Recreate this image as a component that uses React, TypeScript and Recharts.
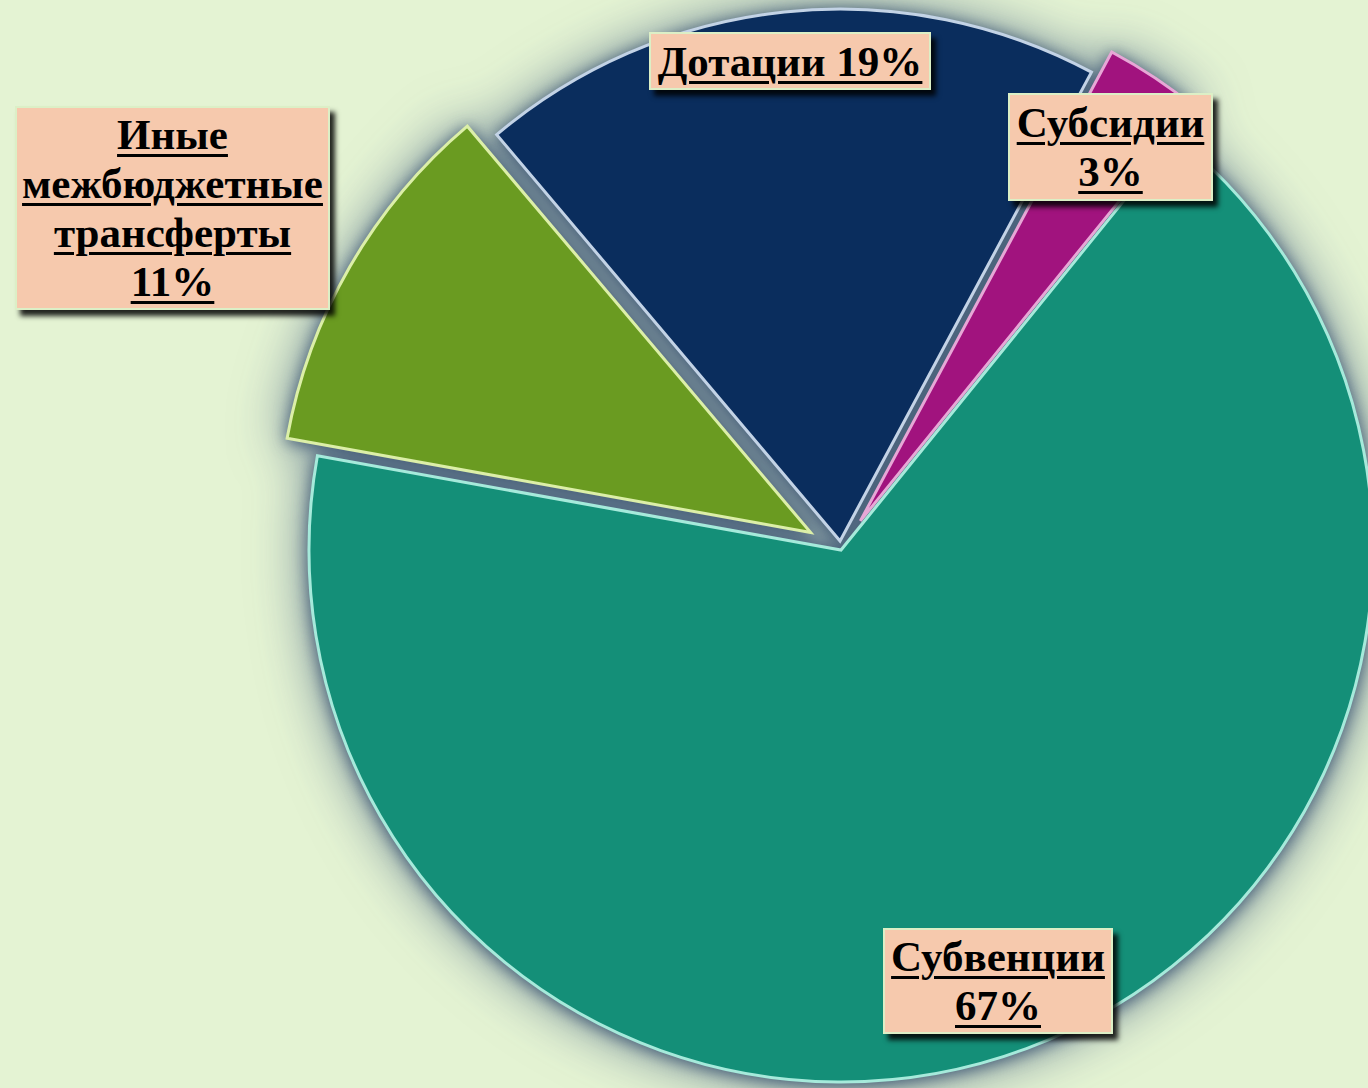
import React from "react";
import { Cell, Pie, PieChart } from "recharts";

const categories = ["Субсидии", "Дотации", "Иные межбюджетные трансферты", "Субвенции"];
const shares = [3, 19, 11, 67];
const labelLines = [["Субсидии", "3%"], ["Дотации 19%"], ["Иные", "межбюджетные", "трансферты", "11%"], ["Субвенции", "67%"]];

const fills = ["#A1137E", "#0A2D5D", "#6A9B21", "#148F78"];
const strokes = ["#e7a7d6", "#c3d3e6", "#dcefa8", "#a6eadb"];
const explode = [35, 9, 35, 0];

// label boxes, placed like the slide
const boxes = [
  { left: 1008, top: 93, width: 205, height: 108 },
  { left: 649, top: 32, width: 282, height: 58 },
  { left: 15, top: 106, width: 315, height: 204 },
  { left: 883, top: 928, width: 230, height: 106 },
];

const data = categories.map((name, i) => ({ name, value: shares[i] }));

const CX = 841;
const CY = 550;
const START = 51;
const total = shares.reduce((a, b) => a + b, 0);

const midAngles = shares.map((v, i) => {
  const before = shares.slice(0, i).reduce((a, b) => a + b, 0);
  return START + ((before + v / 2) / total) * 360;
});

export default function App() {
  return (
    <div
      style={{
        position: "absolute",
        left: 0,
        top: 0,
        width: 1368,
        height: 1088,
        background: "#E4F3D3",
        overflow: "hidden",
      }}
    >
      <div
        style={{
          position: "absolute",
          left: 0,
          top: 0,
          filter:
            "drop-shadow(0 2px 8px rgba(55,80,110,0.9)) drop-shadow(0 0 26px rgba(90,115,140,0.85))",
        }}
      >
        <PieChart width={1368} height={1088} margin={{ top: 0, right: 0, bottom: 0, left: 0 }}>
          {categories.map((cat, k) => {
            const rad = (midAngles[k] * Math.PI) / 180;
            return (
              <Pie
                key={cat}
                data={data}
                dataKey="value"
                nameKey="name"
                cx={CX + explode[k] * Math.cos(rad)}
                cy={CY - explode[k] * Math.sin(rad)}
                outerRadius={532}
                startAngle={START}
                endAngle={START + 360}
                isAnimationActive={false}
                legendType="none"
              >
                {data.map((d, i) => (
                  <Cell
                    key={d.name}
                    fill={i === k ? fills[i] : "none"}
                    stroke={i === k ? strokes[i] : "none"}
                    strokeWidth={3}
                  />
                ))}
              </Pie>
            );
          })}
        </PieChart>
      </div>
      {boxes.map((b, i) => (
        <div
          key={categories[i]}
          style={{
            position: "absolute",
            left: b.left,
            top: b.top,
            width: b.width,
            height: b.height,
            boxSizing: "border-box",
            background: "#F6C9AD",
            border: "2px solid #dcefc6",
            boxShadow: "5px 6px 5px rgba(0,0,0,0.85)",
            display: "flex",
            flexDirection: "column",
            justifyContent: "center",
            alignItems: "center",
            fontFamily: "'Liberation Serif', 'Times New Roman', serif",
            fontWeight: "bold",
            fontSize: 43,
            lineHeight: "49px",
            color: "#000",
          }}
        >
          {labelLines[i].map((line) => (
            <div
              key={line}
              style={{
                textDecoration: "underline",
                textDecorationThickness: 3,
                textUnderlineOffset: 5,
                whiteSpace: "nowrap",
              }}
            >
              {line}
            </div>
          ))}
        </div>
      ))}
    </div>
  );
}
